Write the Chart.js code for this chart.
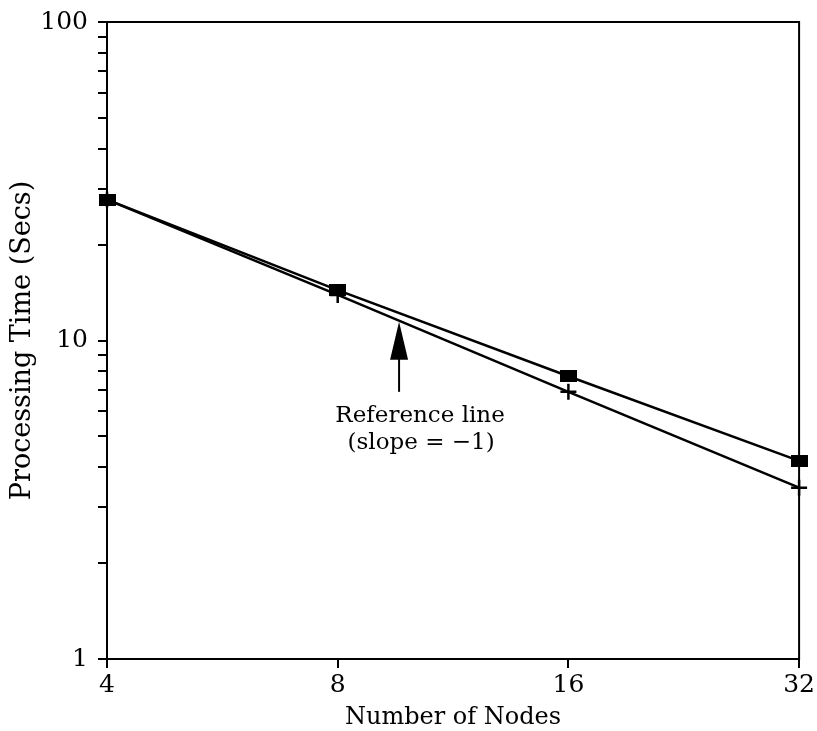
<!DOCTYPE html>
<html>
<head>
<meta charset="utf-8">
<script src="https://cdn.jsdelivr.net/npm/chart.js@4/dist/chart.umd.min.js"></script>
<style>
  html, body { margin: 0; padding: 0; background: #fff; }
  #wrap { width: 817px; height: 731px; }
</style>
</head>
<body>
<div id="wrap"><canvas id="chart"></canvas></div>
<script>
// data
const nodes = [4, 8, 16, 32];
const measuredTime = [27.7, 14.4, 7.72, 4.19];
const referenceTime = [27.7, 13.9, 6.9, 3.45];

const xTickValues = [4, 8, 16, 32];
const yMajorTicks = [1, 10, 100];
const yMinorTicks = [2, 3, 4, 5, 6, 7, 8, 9, 20, 30, 40, 50, 60, 70, 80, 90];

// arrow for the "Reference line" note, in data units
const noteAt = { x: 9.62, tip: 11.45, base: 6.9 };
const noteLines = ['Reference line', '(slope = \u22121)'];

const FONT = '"DejaVu Serif", "Liberation Serif", serif';

// filled rectangle marker (slightly wider than tall, like the print)
const sq = document.createElement('canvas');
sq.width = 17; sq.height = 12;
const sctx = sq.getContext('2d');
sctx.fillStyle = '#000';
sctx.fillRect(0, 0, 17, 12);

const boxAndNote = {
    id: 'boxAndNote',
    afterDraw(chart) {
        const { ctx, chartArea: a, scales } = chart;
        ctx.save();
        ctx.strokeStyle = '#000';
        ctx.lineWidth = 2;
        ctx.strokeRect(a.left, a.top, a.right - a.left, a.bottom - a.top);

        // arrow pointing at the reference line
        const ax = scales.x.getPixelForValue(noteAt.x);
        const tipY = scales.y.getPixelForValue(noteAt.tip);
        const baseY = scales.y.getPixelForValue(noteAt.base);
        ctx.beginPath();
        ctx.moveTo(ax, baseY);
        ctx.lineTo(ax, tipY + 30);
        ctx.stroke();
        ctx.beginPath();
        ctx.moveTo(ax, tipY);
        ctx.lineTo(ax - 9, tipY + 38);
        ctx.lineTo(ax + 9, tipY + 38);
        ctx.closePath();
        ctx.fillStyle = '#000';
        ctx.fill();

        ctx.font = '23px ' + FONT;
        ctx.textAlign = 'center';
        ctx.textBaseline = 'alphabetic';
        ctx.fillText(noteLines[0], ax + 21, baseY + 30);
        ctx.fillText(noteLines[1], ax + 22, baseY + 57);
        ctx.restore();
    }
};

new Chart(document.getElementById('chart'), {
    type: 'line',
    data: {
        datasets: [{
            label: 'Measured',
            data: nodes.map((n, i) => ({ x: n, y: measuredTime[i] })),
            borderColor: '#000',
            backgroundColor: '#000',
            borderWidth: 2.5,
            pointStyle: sq,
            tension: 0,
            clip: false
        }, {
            label: 'Reference',
            data: nodes.map((n, i) => ({ x: n, y: referenceTime[i] })),
            borderColor: '#000',
            backgroundColor: '#000',
            borderWidth: 2.5,
            pointStyle: 'cross',
            pointRadius: 8,
            pointBorderWidth: 2.5,
            tension: 0,
            clip: false
        }]
    },
    options: {
        responsive: true,
        maintainAspectRatio: false,
        animation: false,
        devicePixelRatio: 1,
        layout: { padding: { top: 22, right: 16, left: 0, bottom: 0 } },
        plugins: { legend: { display: false }, tooltip: { enabled: false } },
        scales: {
            x: {
                type: 'logarithmic',
                min: 4,
                max: 32,
                afterBuildTicks: (s) => { s.ticks = xTickValues.map(v => ({ value: v })); },
                afterFit: (s) => { s.height = 72; },
                grid: { drawOnChartArea: false, color: '#000', lineWidth: 2, tickLength: 9 },
                border: { display: true, color: '#000', width: 2 },
                ticks: {
                    color: '#000',
                    font: { family: FONT, size: 25 },
                    padding: 2,
                    maxRotation: 0,
                    autoSkip: false,
                    callback: (v) => String(v)
                },
                title: {
                    display: true,
                    text: 'Number of Nodes',
                    color: '#000',
                    font: { family: FONT, size: 24, lineHeight: 1 },
                    padding: { top: 0, bottom: 1 }
                }
            },
            y: {
                type: 'logarithmic',
                min: 1,
                max: 100,
                afterBuildTicks: (s) => {
                    s.ticks = yMajorTicks.concat(yMinorTicks).sort((a, b) => a - b).map(v => ({ value: v }));
                },
                afterFit: (s) => { s.width = 107; s.paddingTop = 0; s.paddingBottom = 0; },
                grid: { drawOnChartArea: false, color: '#000', lineWidth: 2, tickLength: 9 },
                border: { display: true, color: '#000', width: 2 },
                ticks: {
                    color: '#000',
                    font: { family: FONT, size: 25 },
                    padding: 10,
                    autoSkip: false,
                    callback: (v) => yMajorTicks.includes(v) ? String(v) : ''
                },
                title: {
                    display: true,
                    text: 'Processing Time (Secs)',
                    color: '#000',
                    font: { family: FONT, size: 27, lineHeight: 1 },
                    padding: { top: 9, bottom: 0 }
                }
            }
        }
    },
    plugins: [boxAndNote]
});
</script>
</body>
</html>
